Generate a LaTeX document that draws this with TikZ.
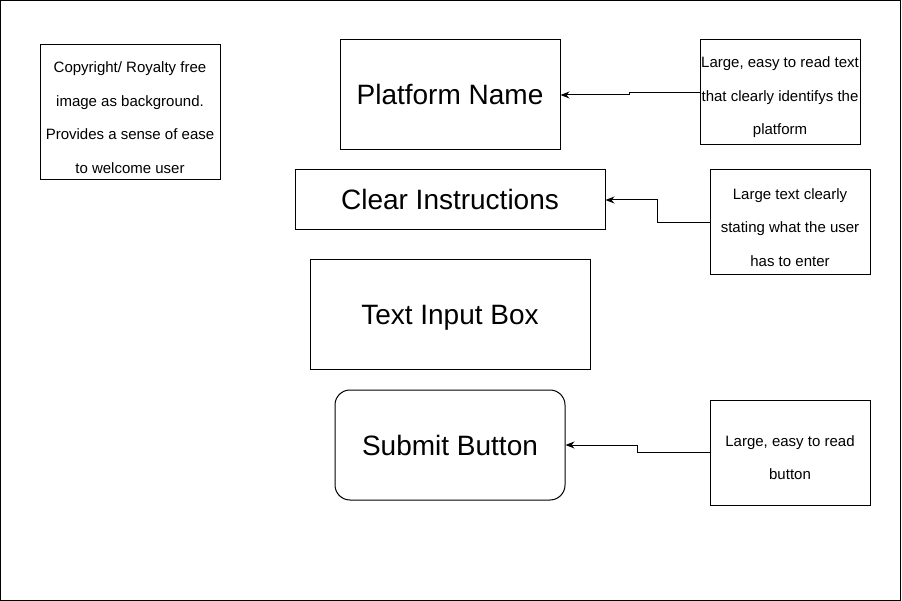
\documentclass[tikz,border=0pt]{standalone}
\usepackage{fontspec}
\setmainfont{Liberation Sans}
\usetikzlibrary{arrows.meta}
\newcommand{\topgap}{\rule{0pt}{21pt}}
\begin{document}
\begin{tikzpicture}[x=1pt,y=-1pt,line width=1pt]

      \useasboundingbox (0,0) rectangle (902,601);
      \draw (0.5,0.5) rectangle (900.5,600.5);

      \begin{scope}[every node/.style={draw,align=center,inner sep=0pt,
          font=\fontsize{28}{32}\selectfont,text height=20pt,text depth=0pt}]
        \node[minimum width=220pt,minimum height=110pt] (name)   at (450,95)  {Platform Name};
        \node[minimum width=310pt,minimum height=60pt]  (instr)  at (450,200) {Clear Instructions};
        \node[minimum width=280pt,minimum height=110pt] (input)  at (450,315) {Text Input Box};
        \node[minimum width=230pt,minimum height=110pt,rounded corners=15pt]
                                                         (submit) at (450,445) {Submit Button};
      \end{scope}

      \begin{scope}[every node/.style={draw,align=center,inner sep=0pt,
          font=\fontsize{15}{33.5}\selectfont}]
        \node[minimum width=180pt,minimum height=135pt] (bg)    at (130,112.5)
          {\topgap Copyright/ Royalty free\\image as background.\\Provides a sense of ease\\to welcome user};
        \node[minimum width=160pt,minimum height=105pt] (note1) at (780,92.5)
          {\topgap Large, easy to read text\\that clearly identifys the\\platform};
        \node[minimum width=160pt,minimum height=105pt] (note2) at (790,222.5)
          {\topgap Large text clearly\\stating what the user\\has to enter};
        \node[minimum width=160pt,minimum height=105pt] (note3) at (790,452.5)
          {\topgap Large, easy to read\\button};
      \end{scope}

      \begin{scope}[-{Stealth[length=9pt,width=7pt]}]
        \draw (note1.west) -- ++(-70,0) |- (name.east);
        \draw (note2.west) -- ++(-52,0) |- (instr.east);
        \draw (note3.west) -- ++(-72,0) |- (submit.east);
      \end{scope}

    \end{tikzpicture}
\end{document}
